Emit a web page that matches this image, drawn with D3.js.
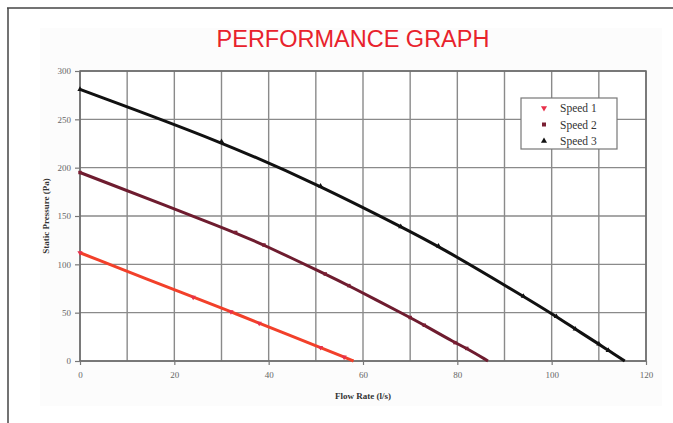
<!DOCTYPE html>
<html>
<head>
<meta charset="utf-8">
<script src="https://cdn.jsdelivr.net/npm/d3@7"></script>
<style>
html,body{margin:0;padding:0;background:#fff;}
svg{display:block;}
</style>
</head>
<body>
<svg id="chart" width="673" height="423"></svg>
<script>
// ---- data ----
const title = "PERFORMANCE GRAPH";
const seriesNames = ["Speed 1", "Speed 2", "Speed 3"];
const speed1Flow = [0, 24, 32, 38, 51, 56, 58];
const speed1Pressure = [112, 66, 51, 39, 14, 4, 0];
const speed2Flow = [0, 33, 39, 52, 57, 70, 73, 79.5, 82, 86.5];
const speed2Pressure = [195, 133, 120, 90, 78, 45, 37, 19, 13, 0];
const speed3Flow = [0, 30, 51, 68, 76, 94, 101, 105, 110, 112, 115.5];
const speed3Pressure = [281, 227, 181, 139, 119, 67, 46, 33, 17.5, 11, 0];
const xTicks = [0, 20, 40, 60, 80, 100, 120];
const xGrid = [0,10,20,30,40,50,60,70,80,90,100,110,120];
const yTicks = [0, 50, 100, 150, 200, 250, 300];
const xLabel = "Flow Rate (l/s)";
const yLabel = "Static Pressure (Pa)";

const colors = ["#f2402a", "#6e1c2f", "#111111"];
const markerColors = ["#e8304a", "#7a1f33", "#111111"];
const symbols = [d3.symbolTriangle, d3.symbolSquare, d3.symbolTriangle];

const series = [
  {name: seriesNames[0], pts: speed1Flow.map((f,i)=>({x:f,y:speed1Pressure[i]}))},
  {name: seriesNames[1], pts: speed2Flow.map((f,i)=>({x:f,y:speed2Pressure[i]}))},
  {name: seriesNames[2], pts: speed3Flow.map((f,i)=>({x:f,y:speed3Pressure[i]}))}
];

const svg = d3.select("#chart");
const W = 673, H = 423;

// frame
svg.append("rect").attr("x",0).attr("y",0).attr("width",W).attr("height",H).attr("fill","#fff");
svg.append("rect").attr("x",40).attr("y",28).attr("width",622).attr("height",378).attr("fill","#fcfcfc");
svg.append("line").attr("x1",7).attr("x2",W).attr("y1",8).attr("y2",8).attr("stroke","#444").attr("stroke-width",1.5);
svg.append("line").attr("x1",8).attr("x2",8).attr("y1",8).attr("y2",H).attr("stroke","#444").attr("stroke-width",1.5);

// title
svg.append("text").attr("x",353).attr("y",47).attr("text-anchor","middle")
  .attr("font-family","'Liberation Sans', Arial, sans-serif").attr("font-size",23.5)
  .attr("fill","#e8222c").text(title);

const L = 80, R = 646, T = 71, B = 361;
const x = d3.scaleLinear().domain([0,120]).range([L,R]);
const y = d3.scaleLinear().domain([0,300]).range([B,T]);

svg.append("rect").attr("x",L).attr("y",T).attr("width",R-L).attr("height",B-T).attr("fill","#fff");

// grid
const g = svg.append("g");
g.selectAll(".vg").data(xGrid).join("line")
  .attr("x1",d=>x(d)).attr("x2",d=>x(d)).attr("y1",T).attr("y2",B)
  .attr("stroke","#8a8a8a").attr("stroke-width",1.4);
g.selectAll(".hg").data(yTicks).join("line")
  .attr("x1",L).attr("x2",R).attr("y1",d=>y(d)).attr("y2",d=>y(d))
  .attr("stroke","#8a8a8a").attr("stroke-width",1.4);
g.append("rect").attr("x",L).attr("y",T).attr("width",R-L).attr("height",B-T)
  .attr("fill","none").attr("stroke","#6a6a6a").attr("stroke-width",1.5);

// axes
const xAxis = d3.axisBottom(x).tickValues(xTicks).tickSize(4).tickPadding(7);
const yAxis = d3.axisLeft(y).tickValues(yTicks).tickSize(5).tickPadding(4);
const gx = svg.append("g").attr("transform",`translate(0,${B})`).call(xAxis);
const gy = svg.append("g").attr("transform",`translate(${L},0)`).call(yAxis);
[gx,gy].forEach(a=>{
  a.select(".domain").remove();
  a.selectAll(".tick line").attr("stroke","#777").attr("stroke-width",1.2);
  a.selectAll("text").attr("font-family","'Liberation Serif', 'Times New Roman', serif")
    .attr("font-size",9).attr("fill","#666");
});

// axis labels
svg.append("text").attr("x",363).attr("y",399).attr("text-anchor","middle")
  .attr("font-family","'Liberation Serif', serif").attr("font-weight","bold")
  .attr("font-size",9).attr("fill","#333").text(xLabel);
svg.append("text").attr("transform","translate(49,216) rotate(-90)").attr("text-anchor","middle")
  .attr("font-family","'Liberation Serif', serif").attr("font-weight","bold")
  .attr("font-size",9).attr("fill","#333").text(yLabel);

// lines
const line = d3.line().x(d=>x(d.x)).y(d=>y(d.y)).curve(d3.curveBasis);
series.forEach((s,i)=>{
  svg.append("path").datum(s.pts).attr("d",line).attr("fill","none")
    .attr("stroke",colors[i]).attr("stroke-width",3).attr("stroke-linejoin","round");
  svg.selectAll(null).data(s.pts.slice(0,-1)).join("path")
    .attr("transform",d=>`translate(${x(d.x)},${y(d.y)})${i===0?" rotate(180)":""}`)
    .attr("d",d3.symbol().type(symbols[i]).size(12))
    .attr("fill",markerColors[i]);
});

// legend
const lg = svg.append("g");
lg.append("rect").attr("x",521).attr("y",98).attr("width",96).attr("height",51)
  .attr("fill","#fff").attr("stroke","#777").attr("stroke-width",1.2);
seriesNames.forEach((n,i)=>{
  const yy = 108 + i*16.5;
  lg.append("path").attr("transform",`translate(544,${yy})${i===0?" rotate(180)":""}`)
    .attr("d",d3.symbol().type(symbols[i]).size(16)).attr("fill",markerColors[i]);
  lg.append("text").attr("x",560).attr("y",yy+4).attr("font-family","'Liberation Serif', serif")
    .attr("font-size",11.5).attr("fill","#333").text(n);
});
</script>
</body>
</html>
